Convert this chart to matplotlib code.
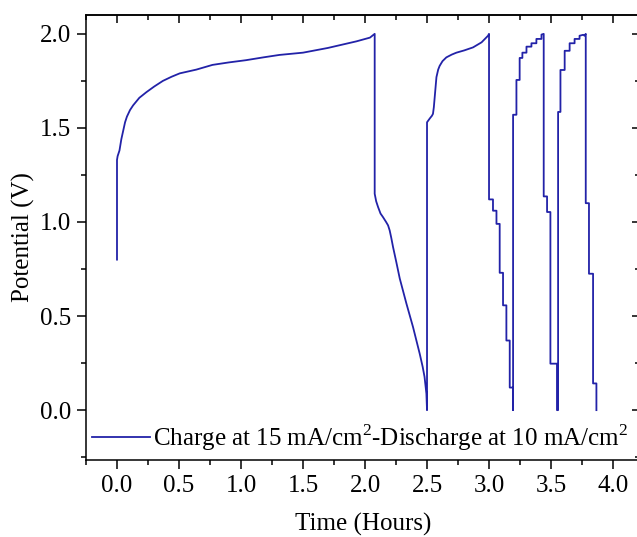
import matplotlib
matplotlib.use("Agg")
import matplotlib.pyplot as plt
from matplotlib.ticker import MultipleLocator

# data (time in hours, potential in V)
charge1_t = [0.0, 0.0, 0.005, 0.02, 0.035, 0.05, 0.065, 0.08, 0.105, 0.13, 0.18, 0.237,
             0.30, 0.37, 0.44, 0.506, 0.64, 0.77, 0.90, 1.04, 1.18, 1.31, 1.50, 1.70,
             1.80, 1.93, 2.04, 2.078]
charge1_v = [0.80, 1.33, 1.35, 1.38, 1.44, 1.486, 1.53, 1.56, 1.595, 1.62, 1.66, 1.69,
             1.72, 1.75, 1.772, 1.79, 1.81, 1.835, 1.848, 1.86, 1.875, 1.888, 1.90, 1.925,
             1.94, 1.96, 1.98, 2.0]

discharge1_t = [2.078, 2.078, 2.09, 2.105, 2.125, 2.145, 2.17, 2.186, 2.199, 2.212,
                2.226, 2.253, 2.28, 2.334, 2.387, 2.441, 2.465, 2.48, 2.495, 2.50]
discharge1_v = [2.0, 1.15, 1.11, 1.08, 1.045, 1.026, 1.0, 0.982, 0.955, 0.915,
                0.867, 0.785, 0.70, 0.566, 0.442, 0.30, 0.23, 0.177, 0.088, 0.0]

charge2_t = [2.50, 2.50, 2.522, 2.54, 2.548, 2.555, 2.562, 2.576, 2.59, 2.602, 2.625,
             2.656, 2.70, 2.737, 2.80, 2.871, 2.94, 2.992, 3.0]
charge2_v = [0.0, 1.53, 1.55, 1.565, 1.575, 1.61, 1.663, 1.77, 1.81, 1.83, 1.855,
             1.875, 1.89, 1.90, 1.912, 1.928, 1.955, 1.99, 2.0]

discharge2_t = [3.0, 3.0, 3.032, 3.032, 3.06, 3.06, 3.086, 3.086, 3.113, 3.113,
                3.14, 3.14, 3.167, 3.167, 3.194, 3.194]
discharge2_v = [2.0, 1.12, 1.12, 1.06, 1.06, 0.99, 0.99, 0.73, 0.73, 0.557,
                0.557, 0.37, 0.37, 0.12, 0.12, 0.0]

charge3_t = [3.194, 3.194, 3.221, 3.221, 3.247, 3.247, 3.269, 3.269, 3.302, 3.302,
             3.342, 3.342, 3.382, 3.382, 3.423, 3.423, 3.441]
charge3_v = [0.0, 1.57, 1.57, 1.755, 1.755, 1.872, 1.872, 1.90, 1.90, 1.932,
             1.932, 1.95, 1.95, 1.973, 1.973, 1.996, 2.0]

discharge3_t = [3.441, 3.441, 3.468, 3.468, 3.495, 3.495, 3.548, 3.548]
discharge3_v = [2.0, 1.136, 1.136, 1.053, 1.053, 0.247, 0.247, 0.0]

charge4_t = [3.557, 3.557, 3.576, 3.576, 3.61, 3.61, 3.65, 3.65, 3.69, 3.69,
             3.73, 3.73, 3.76, 3.77, 3.78]
charge4_v = [0.0, 1.585, 1.585, 1.808, 1.808, 1.91, 1.91, 1.95, 1.95, 1.973,
             1.973, 1.99, 1.995, 1.99, 2.0]

discharge4_t = [3.78, 3.78, 3.806, 3.806, 3.839, 3.839, 3.866, 3.866]
discharge4_v = [2.0, 1.10, 1.10, 0.725, 0.725, 0.142, 0.142, 0.0]

time = (charge1_t + discharge1_t + charge2_t + discharge2_t + charge3_t
        + discharge3_t + charge4_t + discharge4_t)
potential = (charge1_v + discharge1_v + charge2_v + discharge2_v + charge3_v
             + discharge3_v + charge4_v + discharge4_v)

label = "Charge at 15 mA/cm$^2$-Discharge at 10 mA/cm$^2$"

plt.rcParams['font.family'] = ['Liberation Serif', 'DejaVu Serif']
plt.rcParams['mathtext.fontset'] = 'custom'
plt.rcParams['mathtext.rm'] = 'Liberation Serif'
plt.rcParams['font.size'] = 18

fig = plt.figure(figsize=(6.37, 5.37), dpi=100)
ax = fig.add_axes([0.135, 0.1434, 0.8702, 0.8286])

ax.plot(time, potential, color='#2222a8', lw=1.3, label=label)

ax.set_xlim(-0.25, 4.22)
ax.set_ylim(-0.265, 2.1)
ax.xaxis.set_major_locator(MultipleLocator(0.5))
ax.xaxis.set_minor_locator(MultipleLocator(0.25))
ax.yaxis.set_major_locator(MultipleLocator(0.5))
ax.yaxis.set_minor_locator(MultipleLocator(0.25))
ax.xaxis.set_major_formatter(plt.FormatStrFormatter('%.1f'))
ax.yaxis.set_major_formatter(plt.FormatStrFormatter('%.1f'))
ax.tick_params(which='major', direction='out', length=6.5, width=1.1, pad=4)
ax.tick_params(which='minor', direction='out', length=3.5, width=1.1)
for s in ax.spines.values():
    s.set_linewidth(1.1)
ax.spines['right'].set_visible(False)

# mirrored ticks pointing inwards on top and right
top = ax.secondary_xaxis('top')
top.xaxis.set_major_locator(MultipleLocator(0.5))
top.xaxis.set_minor_locator(MultipleLocator(0.25))
top.tick_params(which='major', direction='in', length=6, width=1.1, labeltop=False)
top.tick_params(which='minor', direction='in', length=3.5, width=1.1)
top.spines['top'].set_linewidth(1.1)
right = ax.secondary_yaxis('right')
right.yaxis.set_major_locator(MultipleLocator(0.5))
right.yaxis.set_minor_locator(MultipleLocator(0.25))
right.tick_params(which='major', direction='in', length=6, width=1.1, labelright=False)
right.tick_params(which='minor', direction='in', length=3.5, width=1.1)
right.spines['right'].set_visible(False)

ax.set_xlabel("Time (Hours)", labelpad=12)
ax.set_ylabel("Potential (V)", labelpad=4)

ax.legend(loc='center left', bbox_to_anchor=(0.011, 0.05), frameon=False,
          borderpad=0, borderaxespad=0, handlelength=2.3, handletextpad=0.15)

fig.savefig("out.png", dpi=100)
